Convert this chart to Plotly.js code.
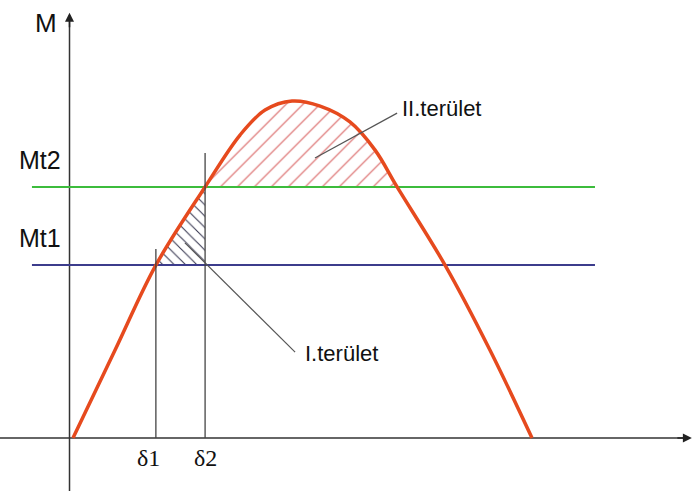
<!DOCTYPE html>
<html>
<head>
<meta charset="utf-8">
<script src="https://cdn.plot.ly/plotly-3.0.1.min.js"></script>
<style>
  html, body { margin: 0; padding: 0; background: #ffffff; }
  #chart { width: 693px; height: 491px; }
</style>
</head>
<body>
<div id="chart"></div>
<script>
// Power-angle curve M(δ) with the two torque levels and the equal-area regions
const delta  = [0, 16.5, 32.5, 51.8, 65.5, 75.3, 85.9, 96.9, 108.6, 118.4, 127.1, 145.9, 163.5, 180]; // load angle, degrees
const torque = [0, 0.261, 0.513, 0.745, 0.899, 0.973, 1.0, 0.985, 0.938, 0.855, 0.745, 0.513, 0.261, 0]; // torque, per unit of peak

const Mt1 = 0.513;           // lower torque level
const Mt2 = 0.745;           // upper torque level
const delta1 = 32.5;         // operating angle at Mt1
const delta2 = 51.8;         // operating angle at Mt2
const deltaRightMt2 = 127.1; // falling-branch crossing of Mt2

const levelLabels = ['Mt1', 'Mt2'];
const angleLabels = ['δ1', 'δ2'];
const areaLabels  = ['I.terület', 'II.terület'];

// axis extents (data units)
const X_RANGE = [-28.63, 243.14];
const Y_RANGE = [-0.1573, 1.2997];
const AXIS_X = -1.37;
const LEVEL_START = -16.1, LEVEL_END = 204.7;

const SANS = 'Liberation Sans, Arial, sans-serif';
const SERIF = 'Liberation Serif, Times New Roman, serif';
const INK = '#111111';

// portion of the curve that bounds region II (between δ2 and the right Mt2 crossing)
const i0 = delta.indexOf(delta2), i1 = delta.indexOf(deltaRightMt2);
const regionIIx = delta.slice(i0, i1 + 1);
const regionIIy = torque.slice(i0, i1 + 1);

const traces = [
  // region I: between Mt1 and the rising branch, up to δ2
  {
    x: [delta1, delta2, delta2], y: [Mt1, Mt2, Mt1],
    mode: 'lines', fill: 'toself', line: {width: 0, color: 'rgba(0,0,0,0)'},
    fillcolor: 'rgba(0,0,0,0)',
    fillpattern: {shape: '\\', size: 8, solidity: 0.13, fgcolor: '#33334d', bgcolor: 'rgba(0,0,0,0)'},
    hoverinfo: 'skip', showlegend: false
  },
  // region II base (Mt2 between the crossings)
  {
    x: [delta2, deltaRightMt2], y: [Mt2, Mt2],
    mode: 'lines', line: {width: 0, color: 'rgba(0,0,0,0)'},
    hoverinfo: 'skip', showlegend: false
  },
  // region II: between Mt2 and the curve
  {
    x: regionIIx, y: regionIIy,
    mode: 'lines', line: {width: 0, shape: 'spline', smoothing: 1, color: 'rgba(0,0,0,0)'},
    fill: 'tonexty', fillcolor: 'rgba(0,0,0,0)',
    fillpattern: {shape: '/', size: 12, solidity: 0.09, fgcolor: '#d86060', bgcolor: 'rgba(0,0,0,0)'},
    hoverinfo: 'skip', showlegend: false
  },
  // torque levels
  {
    x: [LEVEL_START, LEVEL_END], y: [Mt2, Mt2], mode: 'lines',
    line: {color: '#3cbc3c', width: 2}, hoverinfo: 'skip', showlegend: false
  },
  {
    x: [LEVEL_START, LEVEL_END], y: [Mt1, Mt1], mode: 'lines',
    line: {color: '#3c3c8c', width: 2}, hoverinfo: 'skip', showlegend: false
  },
  // power-angle curve
  {
    x: delta, y: torque, mode: 'lines',
    line: {color: '#e64a1e', width: 3.5, shape: 'spline', smoothing: 1},
    hoverinfo: 'skip', showlegend: false
  }
];

const shapes = [
  // M axis
  {type: 'line', xref: 'x', yref: 'y', x0: AXIS_X, x1: AXIS_X, y0: Y_RANGE[0], y1: 1.24,
   line: {color: '#333333', width: 1.5}, layer: 'below'},
  // δ axis
  {type: 'line', xref: 'paper', yref: 'y', x0: 0, x1: 0.99, y0: 0, y1: 0,
   line: {color: '#333333', width: 1.5}, layer: 'below'},
  // δ1, δ2 markers
  {type: 'line', xref: 'x', yref: 'y', x0: delta1, x1: delta1, y0: 0, y1: 0.561,
   line: {color: '#444444', width: 1.3}},
  {type: 'line', xref: 'x', yref: 'y', x0: delta2, x1: delta2, y0: 0, y1: 0.846,
   line: {color: '#444444', width: 1.3}},
  // leader lines to the area labels
  {type: 'line', xref: 'x', yref: 'y', x0: 43.9, y0: 0.579, x1: 87.1, y1: 0.255,
   line: {color: '#555555', width: 1.2}},
  {type: 'line', xref: 'x', yref: 'y', x0: 94.9, y0: 0.831, x1: 127.1, y1: 0.964,
   line: {color: '#555555', width: 1.2}}
];

const txt = (text, x, y, opts) => Object.assign({
  text: text, x: x, y: y, xref: 'x', yref: 'y', showarrow: false,
  font: {family: SANS, size: 25, color: INK}
}, opts || {});

const annotations = [
  txt('M', -10.6, 1.231, {font: {family: SANS, size: 26, color: INK}}),
  txt(levelLabels[1], -12.9, 0.825),
  txt(levelLabels[0], -12.9, 0.593),
  txt(areaLabels[1], 128.2, 0.979, {xanchor: 'left', font: {family: SANS, size: 22, color: INK}}),
  txt(areaLabels[0], 90.2, 0.252, {xanchor: 'left', font: {family: SANS, size: 22, color: INK}}),
  txt(angleLabels[0], delta1, 0, {yshift: -20, xshift: -7, font: {family: SERIF, size: 24, color: INK}}),
  txt(angleLabels[1], delta2, 0, {yshift: -20, font: {family: SERIF, size: 24, color: INK}}),
  // arrowheads on the axes
  {x: AXIS_X, y: 1.262, xref: 'x', yref: 'y', ax: 0, ay: 16, text: '', showarrow: true,
   arrowhead: 2, arrowsize: 1.2, arrowwidth: 1.5, arrowcolor: '#222222'},
  {x: 242.7, y: 0, xref: 'x', yref: 'y', ax: -16, ay: 0, text: '', showarrow: true,
   arrowhead: 2, arrowsize: 1.2, arrowwidth: 1.5, arrowcolor: '#222222'}
];

const layout = {
  width: 693, height: 491,
  margin: {l: 0, r: 0, t: 0, b: 0},
  paper_bgcolor: '#ffffff', plot_bgcolor: '#ffffff',
  xaxis: {range: X_RANGE, visible: false, fixedrange: true},
  yaxis: {range: Y_RANGE, visible: false, fixedrange: true},
  shapes: shapes, annotations: annotations, showlegend: false
};

Plotly.newPlot('chart', traces, layout, {staticPlot: true, displayModeBar: false});
</script>
</body>
</html>
